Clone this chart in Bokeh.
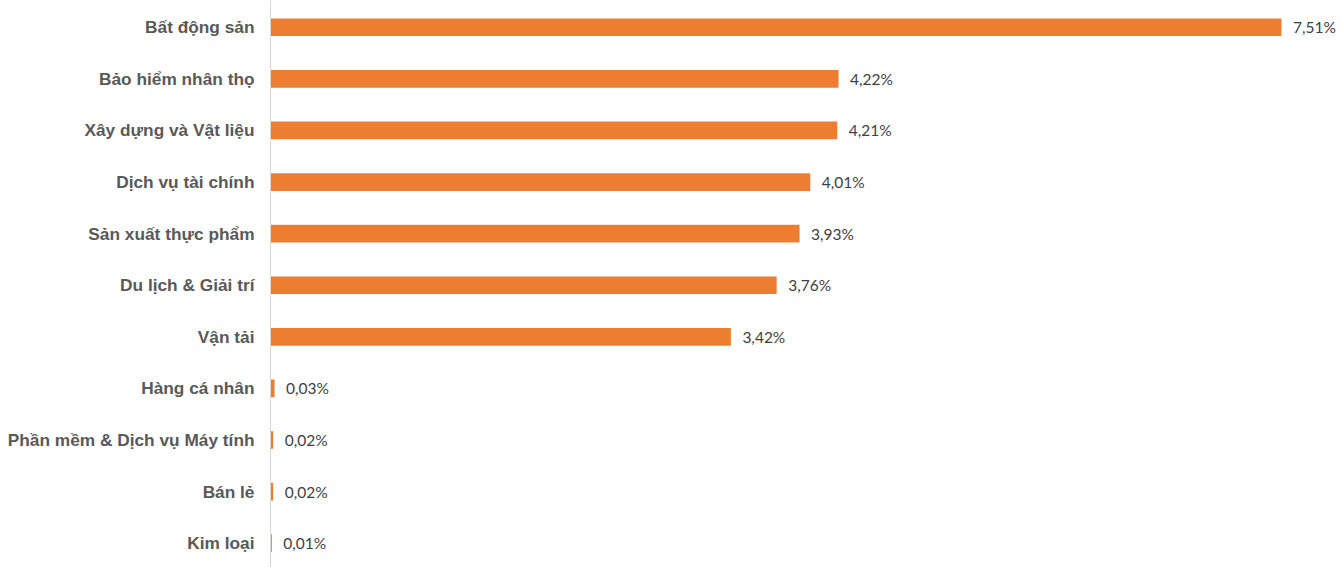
from bokeh.plotting import figure
from bokeh.models import ColumnDataSource, Range1d, FixedTicker
from bokeh.core.properties import value
from bokeh.embed import file_html
from bokeh.resources import INLINE

categories = [
    "Bất động sản",
    "Bảo hiểm nhân thọ",
    "Xây dựng và Vật liệu",
    "Dịch vụ tài chính",
    "Sản xuất thực phẩm",
    "Du lịch & Giải trí",
    "Vận tải",
    "Hàng cá nhân",
    "Phần mềm & Dịch vụ Máy tính",
    "Bán lẻ",
    "Kim loại",
]
values = [7.51, 4.22, 4.21, 4.01, 3.93, 3.76, 3.42, 0.03, 0.02, 0.02, 0.01]

ys = list(range(len(categories)))
labels = [("%.2f" % v).replace(".", ",") + "%" for v in values]

src = ColumnDataSource(dict(y=ys, v=values, lab=labels))

W, H = 1341, 567
p = figure(width=W, height=H, output_backend="svg", toolbar_location=None,
           x_range=Range1d(0, 7.956), y_range=Range1d(10.471, -0.519),
           x_axis_location=None, min_border_left=270, min_border_right=0,
           min_border_top=0, min_border_bottom=0)
p.outline_line_color = None
p.grid.visible = False
p.background_fill_color = "white"

p.hbar(y="y", right="v", left=0, height=0.343, source=src,
       fill_color="#ED7D31", line_color=None)
p.text(x="v", y="y", text="lab", source=src, x_offset=11.5,
       text_font=value("Lato"), text_font_size="15.5px", text_color="#404040",
       text_baseline="middle", text_align="left")

ax = p.yaxis[0]
ax.ticker = FixedTicker(ticks=ys)
ax.major_label_overrides = {i: c for i, c in zip(ys, categories)}
ax.major_label_text_font = "Liberation Sans"
ax.major_label_text_font_style = "bold"
ax.major_label_text_font_size = "17.3px"
ax.major_label_text_color = "#595959"
ax.major_label_standoff = 10
ax.major_tick_line_color = None
ax.minor_tick_line_color = None
ax.axis_line_color = "#d9d9d9"
ax.axis_line_width = 1

open("out.html", "w").write(file_html(p, INLINE))
